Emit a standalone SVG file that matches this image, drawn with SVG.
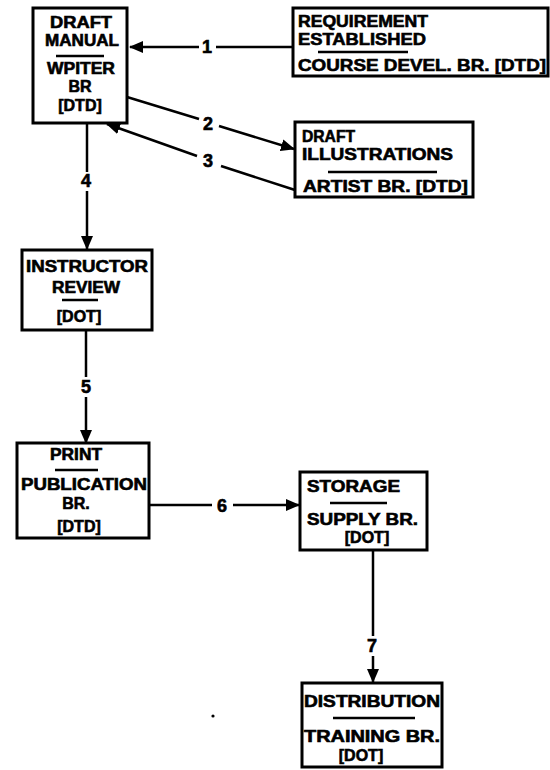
<svg xmlns="http://www.w3.org/2000/svg" width="550" height="770" viewBox="0 0 550 770">
<style>
.box{fill:#fff;stroke:#000;stroke-width:3}
.t{font-family:"Liberation Sans",Arial,sans-serif;font-weight:bold;font-size:16px;fill:#000;stroke:#000;stroke-width:0.6}
.c{text-anchor:middle}
.ul{stroke:#000;stroke-width:2.5}
.ln{fill:none;stroke:#000;stroke-width:2.5}
.lb{font-family:"Liberation Sans",Arial,sans-serif;font-weight:bold;font-size:18px;fill:#000;stroke:#000;stroke-width:0.6;text-anchor:middle}
</style>
<defs>
<marker id="ah" markerWidth="14" markerHeight="12" refX="13" refY="6" orient="auto" markerUnits="userSpaceOnUse">
<path d="M0,0 L14,6 L0,12 Z" fill="#000"/>
</marker>
</defs>
<rect width="550" height="770" fill="#fff"/>
<g id="connectors">
<line class="ln" x1="293" y1="47" x2="216" y2="47"/>
<line class="ln" x1="199" y1="47" x2="130" y2="47" marker-end="url(#ah)"/>
<text class="lb" x="207" y="53">1</text>
<line class="ln" x1="127" y1="97" x2="199" y2="119"/>
<line class="ln" x1="219" y1="126" x2="294" y2="149" marker-end="url(#ah)"/>
<text class="lb" x="208" y="130">2</text>
<line class="ln" x1="295" y1="190" x2="221" y2="166"/>
<line class="ln" x1="197" y1="156" x2="107" y2="124" marker-end="url(#ah)"/>
<text class="lb" x="208" y="167">3</text>
<line class="ln" x1="87" y1="123" x2="87" y2="172"/>
<line class="ln" x1="87" y1="191" x2="87" y2="249" marker-end="url(#ah)"/>
<text class="lb" x="86" y="187">4</text>
<line class="ln" x1="86" y1="330" x2="86" y2="377"/>
<line class="ln" x1="86" y1="397" x2="86" y2="443" marker-end="url(#ah)"/>
<text class="lb" x="86" y="393">5</text>
<line class="ln" x1="150" y1="505" x2="212" y2="505"/>
<line class="ln" x1="233" y1="505" x2="299" y2="505" marker-end="url(#ah)"/>
<text class="lb" x="222" y="512">6</text>
<line class="ln" x1="373" y1="550" x2="373" y2="636"/>
<line class="ln" x1="373" y1="656" x2="373" y2="682" marker-end="url(#ah)"/>
<text class="lb" x="372" y="652">7</text>
</g>
<g id="draft-manual">
<rect class="box" x="33" y="8" width="94" height="115"/>
<text class="t c" x="81" y="28" textLength="62" lengthAdjust="spacingAndGlyphs">DRAFT</text>
<text class="t c" x="82" y="46" textLength="74" lengthAdjust="spacingAndGlyphs">MANUAL</text>
<line class="ul" x1="56" y1="56" x2="104" y2="56"/>
<text class="t c" x="81" y="74" textLength="68" lengthAdjust="spacingAndGlyphs">WPITER</text>
<text class="t c" x="80" y="92">BR</text>
<text class="t c" x="80" y="111">[DTD]</text>
</g>
<g id="requirement">
<rect class="box" x="293" y="8" width="255" height="68"/>
<text class="t" x="298" y="27" textLength="130" lengthAdjust="spacingAndGlyphs">REQUIREMENT</text>
<text class="t" x="298" y="45" textLength="128" lengthAdjust="spacingAndGlyphs">ESTABLISHED</text>
<line class="ul" x1="318" y1="52" x2="408" y2="52"/>
<text class="t" x="298" y="71" textLength="248" lengthAdjust="spacingAndGlyphs">COURSE DEVEL. BR. [DTD]</text>
</g>
<g id="draft-illustrations">
<rect class="box" x="295" y="122" width="178" height="75"/>
<text class="t" x="302" y="142" textLength="53" lengthAdjust="spacingAndGlyphs">DRAFT</text>
<text class="t" x="302" y="160" textLength="151" lengthAdjust="spacingAndGlyphs">ILLUSTRATIONS</text>
<line class="ul" x1="328" y1="172" x2="437" y2="172"/>
<text class="t" x="303" y="192" textLength="165" lengthAdjust="spacingAndGlyphs">ARTIST  BR. [DTD]</text>
</g>
<g id="instructor-review">
<rect class="box" x="22" y="250" width="130" height="80"/>
<text class="t c" x="87" y="272" textLength="122" lengthAdjust="spacingAndGlyphs">INSTRUCTOR</text>
<text class="t c" x="86" y="293" textLength="68" lengthAdjust="spacingAndGlyphs">REVIEW</text>
<line class="ul" x1="62" y1="300" x2="98" y2="300"/>
<text class="t c" x="79" y="322">[DOT]</text>
</g>
<g id="print">
<rect class="box" x="17" y="443" width="132" height="95"/>
<text class="t c" x="76" y="460" textLength="52" lengthAdjust="spacingAndGlyphs">PRINT</text>
<line class="ul" x1="55" y1="470" x2="98" y2="470"/>
<text class="t c" x="84" y="490" textLength="126" lengthAdjust="spacingAndGlyphs">PUBLICATION</text>
<text class="t c" x="76" y="509">BR.</text>
<text class="t c" x="79" y="532">[DTD]</text>
</g>
<g id="storage">
<rect class="box" x="300" y="472" width="127" height="78"/>
<text class="t" x="307" y="492" textLength="93" lengthAdjust="spacingAndGlyphs">STORAGE</text>
<line class="ul" x1="330" y1="503" x2="387" y2="503"/>
<text class="t" x="307" y="525" textLength="111" lengthAdjust="spacingAndGlyphs">SUPPLY  BR.</text>
<text class="t c" x="367" y="543">[DOT]</text>
</g>
<g id="distribution">
<rect class="box" x="302" y="683" width="140" height="84"/>
<text class="t" x="304" y="707" textLength="136" lengthAdjust="spacingAndGlyphs">DISTRIBUTION</text>
<line class="ul" x1="333" y1="718" x2="415" y2="718"/>
<text class="t" x="304" y="742" textLength="136" lengthAdjust="spacingAndGlyphs">TRAINING  BR.</text>
<text class="t c" x="361" y="761">[DOT]</text>
</g>
<circle cx="213" cy="716" r="1.6" fill="#000"/>
</svg>
